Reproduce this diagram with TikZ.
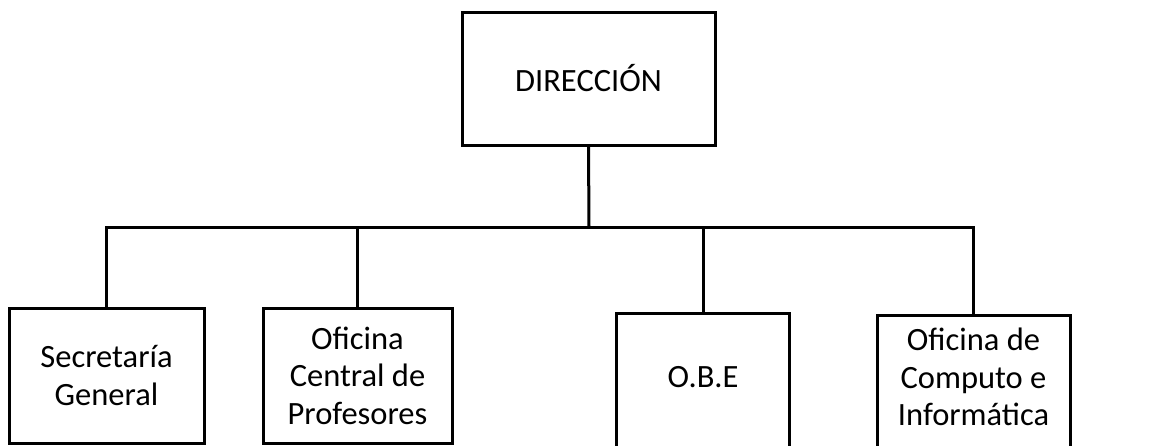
\documentclass[tikz,border=0pt]{standalone}
\usepackage{fontspec}
\setmainfont{Carlito}
\begin{document}
\begin{tikzpicture}[x=1pt,y=-1pt,
  orgbox/.style={draw=black,line width=3pt,rectangle,inner sep=0pt,align=center,
    font=\fontsize{32.5}{37.5}\selectfont},
  lbl/.style={inner sep=0pt,align=center,font=\fontsize{32.5}{37.5}\selectfont},
  conn/.style={draw=black,line width=3pt}]
\clip (0,0) rectangle (1149,445);
\fill[white] (0,0) rectangle (1149,445);
\node[orgbox,minimum width=253pt,minimum height=133pt] (D) at (588.5,78.5) {DIRECCIÓN};
\node[orgbox,minimum width=195pt,minimum height=135pt] (b1) at (106.5,375.5) {Secretaría\\General};
\node[orgbox,minimum width=189pt,minimum height=135pt] (b2) at (357.5,375.5) {Oficina\\Central de\\Profesores};
\node[orgbox,minimum width=173pt,minimum height=160pt] (b3) at (703,393) {};
\node[orgbox,minimum width=193pt,minimum height=160pt] (b4) at (973.5,395) {};
\node[lbl] (t3) at (703,377) {O.B.E};
\node[lbl] (t4) at (973.5,377) {Oficina de\\Computo e\\Informática};
\coordinate (j) at (589,227);
\draw[conn] (D.south) -- (j);
\draw[conn] (b1.north) |- (j);
\draw[conn] (b4.north) |- (j);
\draw[conn] (b2.north) -- (b2.north |- j);
\draw[conn] (b3.north) -- (b3.north |- j);
\end{tikzpicture}
\end{document}
